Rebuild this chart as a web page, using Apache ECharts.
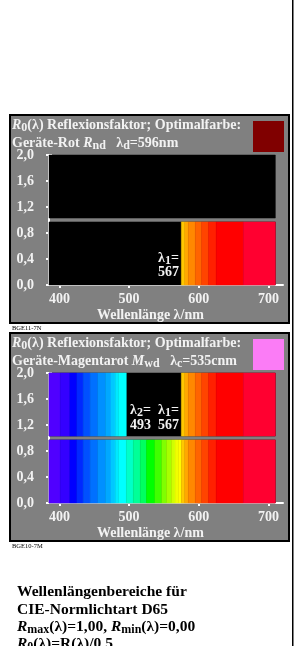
<!DOCTYPE html>
<html><head><meta charset="utf-8">
<script src="https://cdn.jsdelivr.net/npm/echarts@6/dist/echarts.min.js"></script>
<style>html,body{margin:0;padding:0;background:#fff}#c{width:295px;height:646px}</style>
</head><body><div id="c"></div>
<script>
// ---- data ----
const xTicks = [400, 500, 600, 700];
const yTicks = [0, 0.4, 0.8, 1.2, 1.6, 2.0];
const bandEdges = [385, 401, 415, 425, 434, 444, 455, 466, 474, 480, 485, 496, 506, 516, 525, 537, 547, 554, 561, 566, 571, 575, 580, 585, 595, 604, 614, 625, 664, 710];
const bandColors = ['#5000ff', '#3400ff', '#0000ff', '#0028ff', '#0050ff', '#0070ff', '#0090ff', '#00a8ff', '#00c8ff', '#00e8ff', '#00ffff', '#00ffc8', '#00ff98', '#00ff60', '#00ff00', '#40ff00', '#80ff00', '#a8ff00', '#d0ff00', '#f0ff00', '#ffff00', '#ffc800', '#ffa800', '#ff8800', '#ff6400', '#ff4400', '#ff2000', '#ff0000', '#ff0030'];
// reflecting wavelength ranges (nm) for the lower (R0<1) and upper (R0>1) halves
const rotLower = [[575, 710]];
const rotUpper = [];
const magLower = [[385, 710]];
const magUpper = [[385, 496], [575, 710]];
const lowerBand = [0, 0.97];
const upperBand = [1.03, 2.0];

function buildItems(lowerRanges, upperRanges) {
  const items = [];
  [[lowerBand, lowerRanges], [upperBand, upperRanges]].forEach(([band, ranges]) => {
    items.push([bandEdges[0], bandEdges[bandEdges.length - 1], band[0], band[1], -1]);
    for (let i = 0; i < bandColors.length; i++) {
      const a = bandEdges[i], b = bandEdges[i + 1];
      if (ranges.some(r => a >= r[0] && b <= r[1])) items.push([a, b, band[0], band[1], i]);
    }
  });
  return items;
}

const chart = echarts.init(document.getElementById('c'), null, {renderer: 'canvas'});
const FONT = 'Liberation Serif';
const TXT = '#f2f2f2';
const colorOf = i => (i < 0 ? '#000000' : bandColors[i]);

function renderItem(params, api) {
  const p0 = api.coord([api.value(0), api.value(3)]);
  const p1 = api.coord([api.value(1), api.value(2)]);
  const c = colorOf(api.value(4));
  return {type: 'rect', shape: {x: p0[0], y: p0[1], width: p1[0] - p0[0], height: p1[1] - p0[1]},
          style: {fill: c, stroke: c, lineWidth: 0.5}};
}

function xAxes(g) {
  return [
    {gridIndex: g, type: 'value', min: 385, max: 721, position: 'bottom',
     axisLine: {show: true, lineStyle: {color: '#fff', width: 2}},
     axisTick: {show: true, inside: false, length: 3, customValues: xTicks, lineStyle: {color: '#fff', width: 2}},
     axisLabel: {show: true, customValues: xTicks, margin: 7, color: TXT, fontFamily: FONT, fontWeight: 'bold', fontSize: 14},
     splitLine: {show: false}},
    {gridIndex: g, type: 'value', min: 385, max: 721, position: 'bottom',
     axisLine: {show: false},
     axisTick: {show: true, inside: true, length: 3, customValues: xTicks, lineStyle: {color: '#fff', width: 2}},
     axisLabel: {show: false}, splitLine: {show: false}}
  ];
}
function yAxes(g) {
  return [
    {gridIndex: g, type: 'value', min: 0, max: 2, interval: 0.4, position: 'left',
     axisLine: {show: true, lineStyle: {color: '#fff', width: 2}},
     axisTick: {show: true, inside: false, length: 3, lineStyle: {color: '#fff', width: 2}},
     axisLabel: {show: true, margin: 15, color: TXT, fontFamily: FONT, fontWeight: 'bold', fontSize: 14,
                 formatter: v => v.toFixed(1).replace('.', ',')},
     splitLine: {show: false}},
    {gridIndex: g, type: 'value', min: 0, max: 2, interval: 0.4, position: 'left',
     axisLine: {show: false},
     axisTick: {show: true, inside: true, length: 3, lineStyle: {color: '#fff', width: 2}},
     axisLabel: {show: false}, splitLine: {show: false}}
  ];
}

function mkRich(col, size, lh, sub) {
  return {
    n: {fontFamily: FONT, fontWeight: 'bold', fontSize: size, lineHeight: lh, fill: col, color: col},
    i: {fontFamily: FONT, fontWeight: 'bold', fontStyle: 'italic', fontSize: size, lineHeight: lh, fill: col, color: col},
    s: {fontFamily: FONT, fontWeight: 'bold', fontSize: sub, lineHeight: sub, verticalAlign: 'bottom', fill: col, color: col}
  };
}
const rich = mkRich(TXT, 14, 17, 12);
const richB = mkRich('#000000', 15.5, 18, 12);

function txt(x, y, text, r, col) {
  return {type: 'text', z: 100, zlevel: 1,
          style: {x: x, y: y, text: text, rich: r || rich, fill: col || TXT, align: 'left', verticalAlign: 'middle',
                  fontFamily: FONT, fontWeight: 'bold', fontSize: 14}};
}

function panel(top, sq, line2, code) {
  return [
    {type: 'rect', z: -10, shape: {x: 10, y: top + 1, width: 279, height: 208}, style: {fill: '#808080', stroke: '#000', lineWidth: 2}},
    {type: 'rect', z: -9, shape: {x: 253, y: top + 7, width: 31, height: 31}, style: {fill: sq}},
    txt(12, top + 11, '{i|R}{s|0}{n|(λ) Reflexionsfaktor; Optimalfarbe:}'),
    txt(12, top + 29, line2),
    txt(97, top + 201, '{n|Wellenlänge λ/nm}'),
    {type: 'text', z: 10, style: {x: 12, y: top + 214, text: code, font: '6.5px ' + FONT, fill: '#000', verticalAlign: 'middle'}}
  ];
}

const graphic = [].concat(
  panel(114, '#800000', '{n|Geräte-Rot }{i|R}{s|nd}{n|   λ}{s|d}{n|=596nm}', 'BGE11-7N'),
  panel(332, '#fb7cf6', '{n|Geräte-Magentarot }{i|M}{s|wd}{n|   λ}{s|c}{n|=535cnm}', 'BGE10-7M'),
  [
    txt(158, 258, '{n|λ}{s|1}{n|=}'),
    txt(158, 272, '{n|567}'),
    txt(130, 410, '{n|λ}{s|2}{n|=}'),
    txt(158, 410, '{n|λ}{s|1}{n|=}'),
    txt(130, 425, '{n|493}'),
    txt(158, 425, '{n|567}'),
    txt(17, 592, '{n|Wellenlängenbereiche für}', richB, '#000'),
    txt(17, 610, '{n|CIE-Normlichtart D65}', richB, '#000'),
    txt(17, 627, '{i|R}{s|max}{n|(λ)=1,00, }{i|R}{s|min}{n|(λ)=0,00}', richB, '#000'),
    txt(17, 644, '{i|R}{s|0}{n|(λ)=R(λ)/0,5}', richB, '#000'),
    {type: 'rect', z: 20, shape: {x: 292, y: 0, width: 1.5, height: 646}, style: {fill: '#000'}}
  ]
);

chart.setOption({
  animation: false,
  backgroundColor: '#ffffff',
  grid: [
    {left: 49, top: 155, width: 234, height: 130},
    {left: 49, top: 373, width: 234, height: 130}
  ],
  xAxis: xAxes(0).concat(xAxes(1)),
  yAxis: yAxes(0).concat(yAxes(1)),
  series: [
    {type: 'custom', xAxisIndex: 0, yAxisIndex: 0, renderItem: renderItem, data: buildItems(rotLower, rotUpper), z: 1},
    {type: 'custom', xAxisIndex: 2, yAxisIndex: 2, renderItem: renderItem, data: buildItems(magLower, magUpper), z: 1}
  ],
  graphic: graphic
});
</script></body></html>
